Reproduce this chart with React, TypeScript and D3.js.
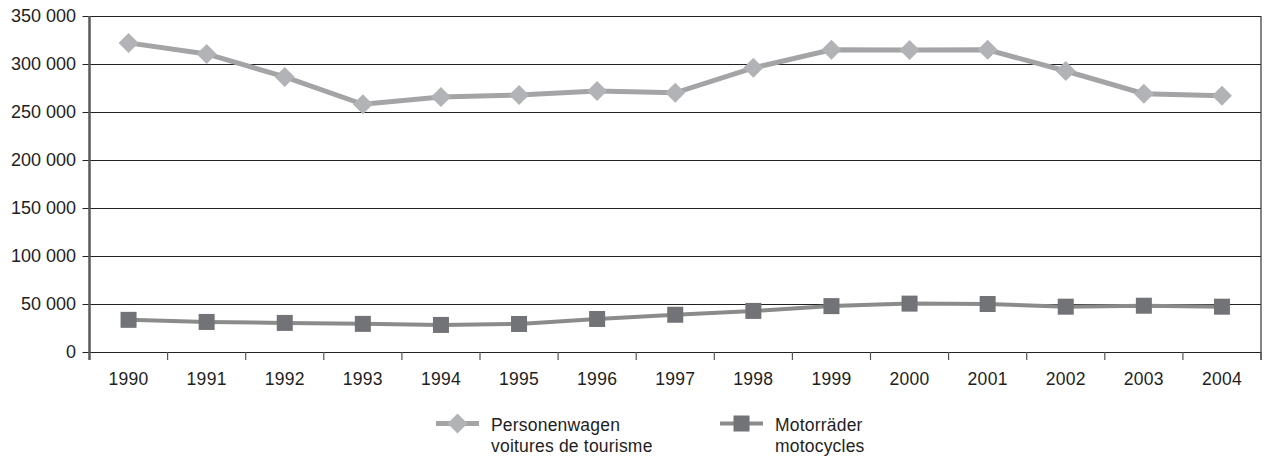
import React, { useEffect, useRef } from 'react';
import * as d3 from 'd3';

const years = ['1990', '1991', '1992', '1993', '1994', '1995', '1996', '1997', '1998', '1999', '2000', '2001', '2002', '2003', '2004'];
const personenwagen = [322000, 310500, 286500, 258000, 265500, 267800, 272000, 270000, 296000, 314800, 314500, 314800, 292700, 269000, 267000];
const motorraeder = [33500, 31300, 30300, 29300, 28200, 29200, 34400, 38800, 42800, 47800, 50400, 50000, 47200, 48200, 47200];
const yTicks = [0, 50000, 100000, 150000, 200000, 250000, 300000, 350000];
const legendLabels = [
  ['Personenwagen', 'voitures de tourisme'],
  ['Motorräder', 'motocycles'],
];

const W = 1265;
const H = 457;
const FONT = '"Liberation Sans", Arial, Helvetica, sans-serif';

const App = () => {
  const svgRef = useRef<SVGSVGElement>(null);

  useEffect(() => {
    const svg = d3.select(svgRef.current);
    svg.selectAll('*').remove();

    const left = 89.5;
    const right = 1261;
    const top = 16;
    const bottom = 352;

    const x = d3.scaleBand().domain(years).range([left, right]);
    const y = d3.scaleLinear().domain([0, 350000]).range([bottom, top]);
    const cx = (d: string) => (x(d) as number) + x.bandwidth() / 2;
    const fmt = (v: number) => d3.format(',')(v).replace(/,/g, ' ');

    const g = svg.append('g');

    // gridlines + y labels
    g.selectAll('line.grid')
      .data(yTicks)
      .enter()
      .append('line')
      .attr('x1', left - 7)
      .attr('x2', right)
      .attr('y1', d => Math.round(y(d)) + 0.5)
      .attr('y2', d => Math.round(y(d)) + 0.5)
      .attr('stroke', '#222')
      .attr('stroke-width', 1.2);

    g.selectAll('text.ylab')
      .data(yTicks)
      .enter()
      .append('text')
      .attr('x', 76)
      .attr('y', d => y(d))
      .attr('dy', '0.36em')
      .attr('text-anchor', 'end')
      .attr('font-family', FONT)
      .attr('font-size', 18)
      .attr('fill', '#1e1e1e')
      .text(d => fmt(d));

    // right border
    g.append('line')
      .attr('x1', right).attr('x2', right)
      .attr('y1', top).attr('y2', bottom + 8)
      .attr('stroke', '#333').attr('stroke-width', 1.2);

    // x ticks at band boundaries
    const bounds = years.map(d => x(d) as number).concat([right]);
    g.selectAll('line.xtick')
      .data(bounds.slice(1))
      .enter()
      .append('line')
      .attr('x1', d => d).attr('x2', d => d)
      .attr('y1', bottom).attr('y2', bottom + 8)
      .attr('stroke', '#555').attr('stroke-width', 1.2);

    // left axis
    g.append('line')
      .attr('x1', left).attr('x2', left)
      .attr('y1', top).attr('y2', bottom + 8)
      .attr('stroke', '#5a5a5a').attr('stroke-width', 2.5);

    g.selectAll('text.xlab')
      .data(years)
      .enter()
      .append('text')
      .attr('x', d => cx(d))
      .attr('y', 384.5)
      .attr('text-anchor', 'middle')
      .attr('font-family', FONT)
      .attr('font-size', 17.5)
      .attr('letter-spacing', 0.3)
      .attr('fill', '#1e1e1e')
      .text(d => d);

    const line = d3.line<number>()
      .x((_, i) => cx(years[i]))
      .y(d => y(d));

    // Personenwagen
    g.append('path')
      .datum(personenwagen)
      .attr('fill', 'none')
      .attr('stroke', '#a4a4a7')
      .attr('stroke-width', 5)
      .attr('d', line);

    const diamond = (px: number, py: number, r: number) =>
      `M${px},${py - r}L${px + r},${py}L${px},${py + r}L${px - r},${py}Z`;

    g.selectAll('path.dia')
      .data(personenwagen)
      .enter()
      .append('path')
      .attr('d', (d, i) => diamond(cx(years[i]), y(d), 10))
      .attr('fill', '#b2b3b6');

    // Motorräder
    g.append('path')
      .datum(motorraeder)
      .attr('fill', 'none')
      .attr('stroke', '#8b8b8c')
      .attr('stroke-width', 4)
      .attr('d', line);

    g.selectAll('rect.sq')
      .data(motorraeder)
      .enter()
      .append('rect')
      .attr('x', (d, i) => cx(years[i]) - 8)
      .attr('y', d => y(d) - 8)
      .attr('width', 16)
      .attr('height', 16)
      .attr('fill', '#727377');

    // legend
    const leg = svg.append('g');
    const items = [
      { x0: 436, stroke: '#a4a4a7', fill: '#b2b3b6', shape: 'diamond' },
      { x0: 720, stroke: '#8b8b8c', fill: '#727377', shape: 'square' },
    ];
    items.forEach((it, k) => {
      const ly = 423.5;
      leg.append('line')
        .attr('x1', it.x0).attr('x2', it.x0 + 43)
        .attr('y1', ly).attr('y2', ly)
        .attr('stroke', it.stroke)
        .attr('stroke-width', k === 0 ? 5 : 4);
      const mx = it.x0 + 21.5;
      if (it.shape === 'diamond') {
        leg.append('path').attr('d', diamond(mx, ly, 10)).attr('fill', it.fill);
      } else {
        leg.append('rect')
          .attr('x', mx - 8).attr('y', ly - 8)
          .attr('width', 16).attr('height', 16)
          .attr('fill', it.fill);
      }
      legendLabels[k].forEach((s, j) => {
        leg.append('text')
          .attr('x', it.x0 + 55)
          .attr('y', 431 + j * 20.5)
          .attr('font-family', FONT)
          .attr('font-size', 17.5)
          .attr('letter-spacing', 0.2)
          .attr('fill', '#1e1e1e')
          .text(s);
      });
    });
  }, []);

  return (
    <svg
      ref={svgRef}
      width={W}
      height={H}
      style={{ position: 'absolute', left: 0, top: 0, background: '#fff' }}
    />
  );
};

export default App;
